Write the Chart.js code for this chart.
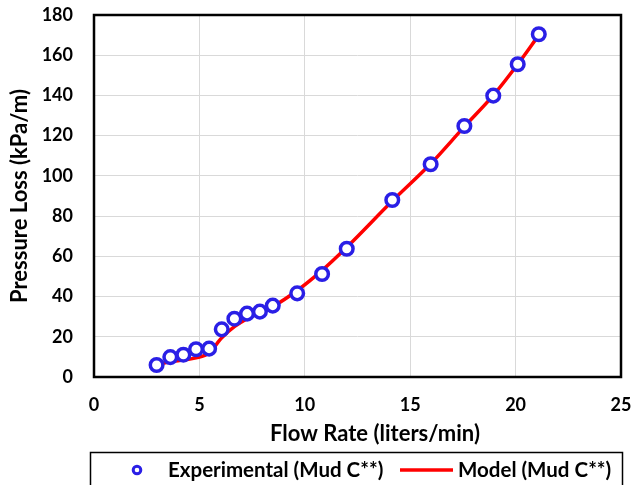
<!DOCTYPE html>
<html>
<head>
<meta charset="utf-8">
<script src="https://cdn.jsdelivr.net/npm/chart.js@4/dist/chart.umd.min.js"></script>
<style>
  html, body { margin: 0; padding: 0; background: #ffffff; }
  #wrap { width: 634px; height: 485px; position: relative; }
</style>
</head>
<body>
<div id="wrap"><canvas id="c" width="634" height="485"></canvas></div>
<script>
// ---- data ----
const expFlow     = [2.97, 3.62, 4.24, 4.84, 5.46, 6.06, 6.66, 7.26, 7.87, 8.48, 9.64, 10.82, 11.99, 14.15, 15.97, 17.57, 18.94, 20.10, 21.10];
const expPressure = [6.0, 9.9, 11.1, 13.8, 14.1, 23.7, 29.0, 31.5, 32.5, 35.5, 41.6, 51.2, 63.8, 88.0, 105.8, 124.8, 139.9, 155.5, 170.4];
const modelFlow     = [2.97, 3.62, 4.24, 4.84, 5.46, 6.06, 6.66, 7.26, 7.87, 8.48, 9.64, 10.82, 11.99, 14.15, 15.97, 17.57, 18.94, 20.10, 21.10];
const modelPressure = [6.3, 7.6, 8.5, 9.5, 12.0, 19.5, 25.0, 29.0, 32.0, 35.0, 43.0, 53.0, 64.5, 87.5, 106.0, 124.5, 140.0, 155.5, 170.0];
const seriesNames = ['Experimental (Mud C**)', 'Model (Mud C**)'];
const xTitle = 'Flow Rate (liters/min)';
const yTitle = 'Pressure Loss (kPa/m)';
const xTickMin = 0, xTickMax = 25, xTickStep = 5;
const yTickMin = 0, yTickMax = 180, yTickStep = 20;

const FONT = 'Lato, "Open Sans", sans-serif';
const BLUE = '#2a1fe6';
const RED = '#ff0000';

const expPoints = expFlow.map((x, i) => ({ x: x, y: expPressure[i] }));
const modelPoints = modelFlow.map((x, i) => ({ x: x, y: modelPressure[i] }));

const framePlugin = {
  id: 'frameAndLegend',
  afterDraw(chart) {
    const ctx = chart.ctx;
    const a = chart.chartArea;
    ctx.save();
    // plot frame
    ctx.strokeStyle = '#000000';
    ctx.lineWidth = 2.5;
    ctx.strokeRect(a.left, a.top, a.right - a.left, a.bottom - a.top);

    // x title
    ctx.fillStyle = '#000000';
    ctx.font = 'bold 22px ' + FONT;
    ctx.textAlign = 'center';
    ctx.textBaseline = 'middle';
    ctx.fillText(xTitle, 375, 434);

    // legend box
    ctx.lineWidth = 1.5;
    ctx.strokeRect(90.5, 452.5, 532, 40);
    const ly = 470;
    const ds0 = chart.data.datasets[0];
    const ds1 = chart.data.datasets[1];
    // marker
    ctx.beginPath();
    ctx.arc(137, ly, 3.8, 0, Math.PI * 2);
    ctx.fillStyle = '#ffffff';
    ctx.fill();
    ctx.lineWidth = 3;
    ctx.strokeStyle = ds0.borderColor;
    ctx.stroke();
    // line
    ctx.beginPath();
    ctx.moveTo(400, ly);
    ctx.lineTo(453, ly);
    ctx.lineWidth = 3.5;
    ctx.strokeStyle = ds1.borderColor;
    ctx.stroke();
    ctx.fillStyle = '#000000';
    ctx.font = 'bold 20.5px ' + FONT;
    ctx.textAlign = 'left';
    ctx.textBaseline = 'middle';
    ctx.fillText(ds0.label, 168, ly);
    ctx.fillText(ds1.label, 458, ly);
    ctx.restore();
  }
};

new Chart(document.getElementById('c'), {
  type: 'scatter',
  data: {
    datasets: [
      {
        label: seriesNames[0],
        data: expPoints,
        showLine: false,
        pointStyle: 'circle',
        pointRadius: 6.3,
        pointBorderWidth: 3.5,
        borderColor: BLUE,
        backgroundColor: '#ffffff',
        pointBackgroundColor: '#ffffff',
        pointBorderColor: BLUE,
        order: 0
      },
      {
        label: seriesNames[1],
        data: modelPoints,
        showLine: true,
        pointRadius: 0,
        borderColor: RED,
        backgroundColor: RED,
        borderWidth: 3.5,
        cubicInterpolationMode: 'monotone',
        order: 1
      }
    ]
  },
  options: {
    responsive: false,
    animation: false,
    devicePixelRatio: 1,
    layout: { padding: { left: 0, right: 13, top: 15, bottom: 0 } },
    plugins: {
      legend: { display: false },
      tooltip: { enabled: false }
    },
    scales: {
      x: {
        type: 'linear',
        min: xTickMin, max: xTickMax,
        ticks: {
          stepSize: xTickStep,
          color: '#000000',
          font: { family: FONT, size: 18, weight: 'bold' },
          padding: 17
        },
        grid: { color: '#d9d9d9', lineWidth: 1, drawTicks: false },
        border: { display: false },
        afterFit(s) { s.height = 108; s.paddingLeft = 0; s.paddingRight = 0; s.paddingTop = 0; s.paddingBottom = 0; }
      },
      y: {
        type: 'linear',
        min: yTickMin, max: yTickMax,
        ticks: {
          stepSize: yTickStep,
          color: '#000000',
          font: { family: FONT, size: 18, weight: 'bold' },
          padding: 21
        },
        title: {
          display: true,
          text: yTitle,
          color: '#000000',
          font: { family: FONT, size: 22, weight: 'bold' },
          padding: { top: 7, bottom: 0 }
        },
        grid: { color: '#d9d9d9', lineWidth: 1, drawTicks: false },
        border: { display: false },
        afterFit(s) { s.width = 94; s.paddingLeft = 0; s.paddingRight = 0; s.paddingTop = 0; s.paddingBottom = 0; }
      }
    }
  },
  plugins: [framePlugin]
});
</script>
</body>
</html>
